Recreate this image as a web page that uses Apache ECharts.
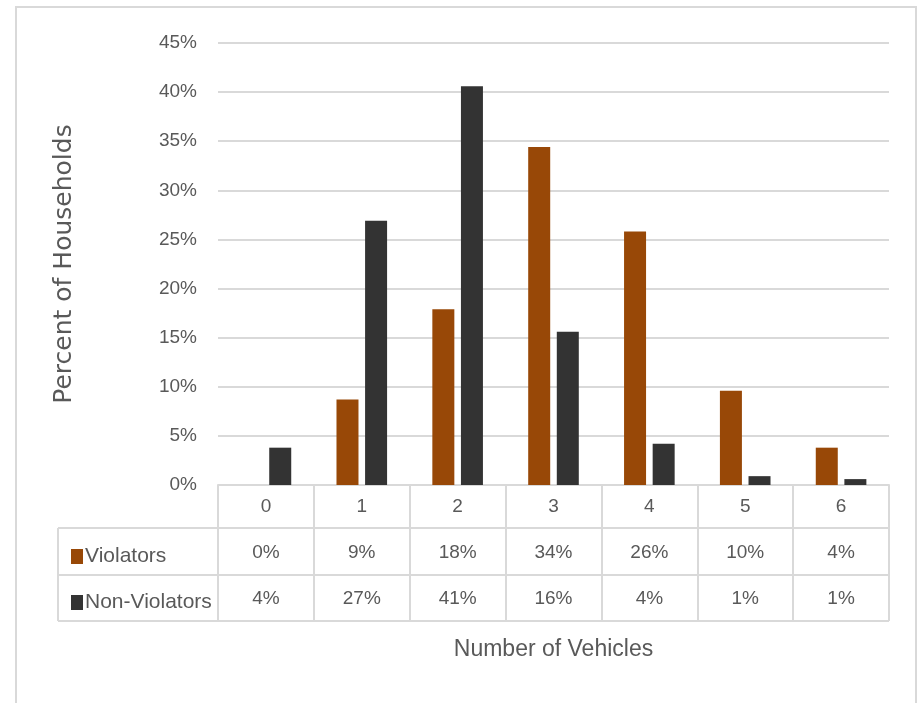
<!DOCTYPE html>
<html>
<head>
<meta charset="utf-8">
<script src="https://cdn.jsdelivr.net/npm/echarts@6/dist/echarts.min.js"></script>
<style>
  html, body { margin: 0; padding: 0; background: #fff; }
  #chart { width: 918px; height: 703px; }
</style>
</head>
<body>
<div id="chart"></div>
<script>
// number of vehicles per household
const categories = ['0', '1', '2', '3', '4', '5', '6'];
// percent of households
const violators = [0, 8.7, 17.9, 34.4, 25.8, 9.6, 3.8];
const nonViolators = [3.8, 26.9, 40.6, 15.6, 4.2, 0.9, 0.6];
const seriesNames = ['Violators', 'Non-Violators'];
const yTicks = { min: 0, max: 45, interval: 5 };

const FONT = "'Liberation Sans Narrow', 'Liberation Sans', sans-serif";
const TXT = '#595959';
const LINE = '#d9d9d9';
const COLORS = ['#984807', '#333333'];

const gridLeft = 218, gridRight = 29, gridTop = 43, gridBottom = 218;
const tableLeft = 58, tableRight = 918 - gridRight;
const rowY = [485, 528, 575, 621];

const chart = echarts.init(document.getElementById('chart'));

const option = {
    animation: false,
    color: COLORS,
    textStyle: { fontFamily: FONT },
    grid: { left: gridLeft, right: gridRight, top: gridTop, bottom: gridBottom, containLabel: false },
    legend: {
        orient: 'vertical',
        left: 66,
        top: 541,
        itemWidth: 12,
        itemHeight: 15,
        itemGap: 25,
        icon: 'rect',
        selectedMode: false,
        data: seriesNames,
        textStyle: { fontFamily: FONT, fontSize: 21, color: TXT, lineHeight: 21, padding: [0, 0, 0, -3] }
    },
    xAxis: {
        type: 'category',
        data: categories,
        name: 'Number of Vehicles',
        nameLocation: 'middle',
        nameGap: 153,
        nameTextStyle: { fontFamily: FONT, fontSize: 23, color: TXT },
        axisLine: { show: true, lineStyle: { color: LINE, width: 2 } },
        axisTick: { show: true, interval: 0, length: rowY[3] - rowY[0], lineStyle: { color: LINE, width: 2 } },
        axisLabel: { fontFamily: FONT, fontSize: 19, color: TXT, margin: 12, interval: 0 }
    },
    yAxis: {
        type: 'value',
        min: yTicks.min,
        max: yTicks.max,
        interval: yTicks.interval,
        name: 'Percent of Households',
        nameLocation: 'middle',
        nameGap: 141,
        nameTextStyle: { fontFamily: "'DejaVu Sans', sans-serif", fontSize: 25, color: TXT, fontWeight: 500 },
        axisLine: { show: false },
        axisTick: { show: false },
        axisLabel: { fontFamily: FONT, fontSize: 19, color: TXT, margin: 21, formatter: '{value}%' },
        splitLine: { lineStyle: { color: LINE, width: 2 } }
    },
    series: [
        {
            name: seriesNames[0],
            type: 'bar',
            data: violators,
            barWidth: 22,
            barGap: '30%',
            itemStyle: { color: COLORS[0] }
        },
        {
            name: seriesNames[1],
            type: 'bar',
            data: nonViolators,
            barWidth: 22,
            barGap: '30%',
            itemStyle: { color: COLORS[1] }
        }
    ]
};

chart.setOption(option);

// data table under the axis: borders + value cells
const graphics = [];
// outer chart border
graphics.push({
    type: 'rect',
    shape: { x: 16, y: 7, width: 900, height: 740 },
    style: { fill: 'none', stroke: LINE, lineWidth: 2 },
    silent: true
});
[rowY[1], rowY[2], rowY[3]].forEach(y => {
    graphics.push({
        type: 'line',
        shape: { x1: tableLeft, y1: y, x2: tableRight, y2: y },
        style: { stroke: LINE, lineWidth: 2 },
        silent: true
    });
});
graphics.push({
    type: 'line',
    shape: { x1: tableLeft, y1: rowY[1], x2: tableLeft, y2: rowY[3] },
    style: { stroke: LINE, lineWidth: 2 },
    silent: true
});

const rows = [violators, nonViolators];
rows.forEach((vals, r) => {
    const cy = (rowY[r + 1] + rowY[r + 2]) / 2 + 1;
    vals.forEach((v, i) => {
        const cx = chart.convertToPixel({ xAxisIndex: 0 }, categories[i]);
        graphics.push({
            type: 'text',
            x: cx,
            y: cy,
            silent: true,
            style: {
                text: Math.round(v) + '%',
                fontFamily: FONT,
                fontSize: 19,
                fill: TXT,
                align: 'center',
                verticalAlign: 'middle'
            }
        });
    });
});

chart.setOption({ graphic: graphics });

window.addEventListener('resize', () => chart.resize());
</script>
</body>
</html>
